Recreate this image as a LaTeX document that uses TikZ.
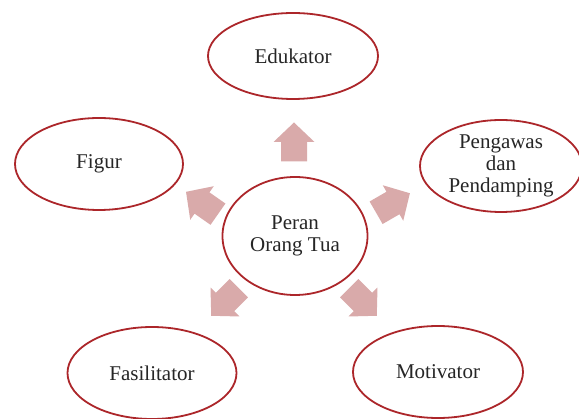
\documentclass[tikz,border=0pt]{standalone}
\usepackage{fontspec}
\setmainfont{Liberation Serif}
\usepackage{tikz}
\usetikzlibrary{shapes.geometric, positioning}
\definecolor{rimred}{RGB}{172,38,42}
\definecolor{arrowpink}{RGB}{217,170,170}
\tikzset{
    role/.style={ellipse, draw=rimred, line width=1.8pt, fill=white, inner sep=0pt, align=center, font=\fontsize{21}{22}\selectfont, text=black!85},
    pics/blockarrow/.style={code={
        \fill[arrowpink] (-19.5,-13) -- (0,-13) -- (0,-20.5) -- (19.5,0) -- (0,20.5) -- (0,13) -- (-19.5,13) -- cycle;
    }},
}
\begin{document}
\begin{tikzpicture}[x=1pt, y=-1pt]
  \useasboundingbox (0,0) rectangle (579,419);
  \node[role, minimum width=145pt, minimum height=118pt] (center) at (295,236) {Peran\\Orang Tua};
  \node[role, minimum width=170pt, minimum height=86pt]  (edu)   at (293,56)  {Edukator};
  \node[role, minimum width=168pt, minimum height=92pt]  (figur) at (99,164)  {Figur};
  \node[role, minimum width=162pt, minimum height=92pt]  (awas)  at (501,166) {Pengawas\\dan\\Pendamping};
  \node[role, minimum width=169pt, minimum height=92pt]  (fasil) at (152,373) {Fasilitator};
  \node[role, minimum width=170pt, minimum height=92pt]  (motiv) at (438,372) {Motivator};

  % arrows from the centre
  \pic[rotate=90]  (a-edu)   at (294,142) {blockarrow};
  \pic[rotate=145] (a-figur) at (202,203) {blockarrow};
  \pic[rotate=30]  (a-awas)  at (393,203) {blockarrow};
  \pic[rotate=225] (a-fasil) at (225,302) {blockarrow};
  \pic[rotate=-45] (a-motiv) at (363,302) {blockarrow};
\end{tikzpicture}
\end{document}
